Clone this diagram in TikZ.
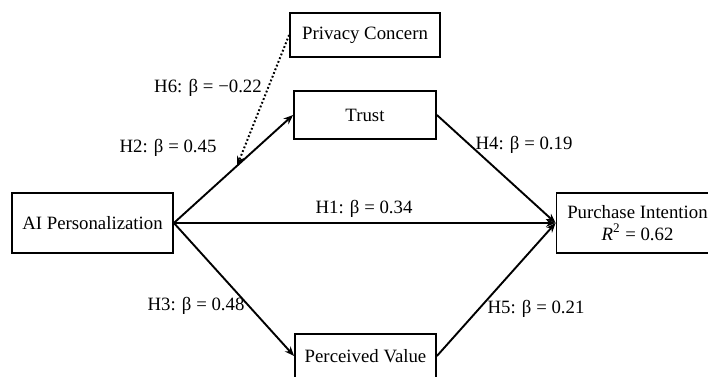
\documentclass[tikz,border=0pt]{standalone}
\usepackage{fontspec}
\setmainfont{Liberation Serif}
\usepackage{tikz}
\usetikzlibrary{arrows.meta,positioning}

\begin{document}
\begin{tikzpicture}[
  x=0.5pt, y=0.5pt,
  >={Stealth[length=4.8pt,width=3.8pt]},
  font=\fontsize{9.4}{11}\selectfont,
  box/.style={draw, align=center, inner sep=2pt, line width=0.9pt,
              minimum height=30pt},
  arr/.style ={->, line width=0.95pt},
  arrd/.style={->, line width=1pt, dash pattern=on 0.9pt off 1.1pt},
  coef/.style={inner sep=1pt}
]
    \useasboundingbox (0,0) rectangle (708,376);

    % Constructs
    \node[box, minimum width=80.5pt]               (ai)      at (92.5,153) {AI Personalization};
    \node[box, minimum width=75pt, minimum height=22pt] (privacy) at (365,341)  {Privacy Concern};
    \node[box, minimum width=71pt, minimum height=24pt] (trust)   at (365,261)  {Trust};
    \node[box, minimum width=70.5pt, minimum height=22pt] (value) at (365.5,20) {Perceived Value};
    \node[box, minimum width=81pt]                 (purchase) at (637.5,153)
      {Purchase Intention\\\textit{R}\textsuperscript{2} = 0.62};

    % Direct and mediated paths
    \draw[arr] (ai.east) -- (trust.west);
    \draw[arr] (ai.east) -- (purchase.west);
    \draw[arr] (ai.east) -- (value.west);
    \draw[arr] (trust.east) -- (purchase.west);
    \draw[arr] (value.east) -- (purchase.west);

    % Moderation of H2 by privacy concern
    \path (ai.east) -- coordinate[pos=0.53] (mod) (trust.west);
    \draw[arrd] (privacy.west) -- (mod);

    % Path coefficients
    \node[coef] (h6) at (208,288) {H6: β = −0.22};
    \node[coef] (h2) at (168,228) {H2: β = 0.45};
    \node[coef] (h4) at (524,231) {H4: β = 0.19};
    \node[coef] (h1) at (364,167) {H1: β = 0.34};
    \node[coef] (h3) at (196,70)  {H3: β = 0.48};
    \node[coef] (h5) at (536,67)  {H5: β = 0.21};
\end{tikzpicture}
\end{document}
